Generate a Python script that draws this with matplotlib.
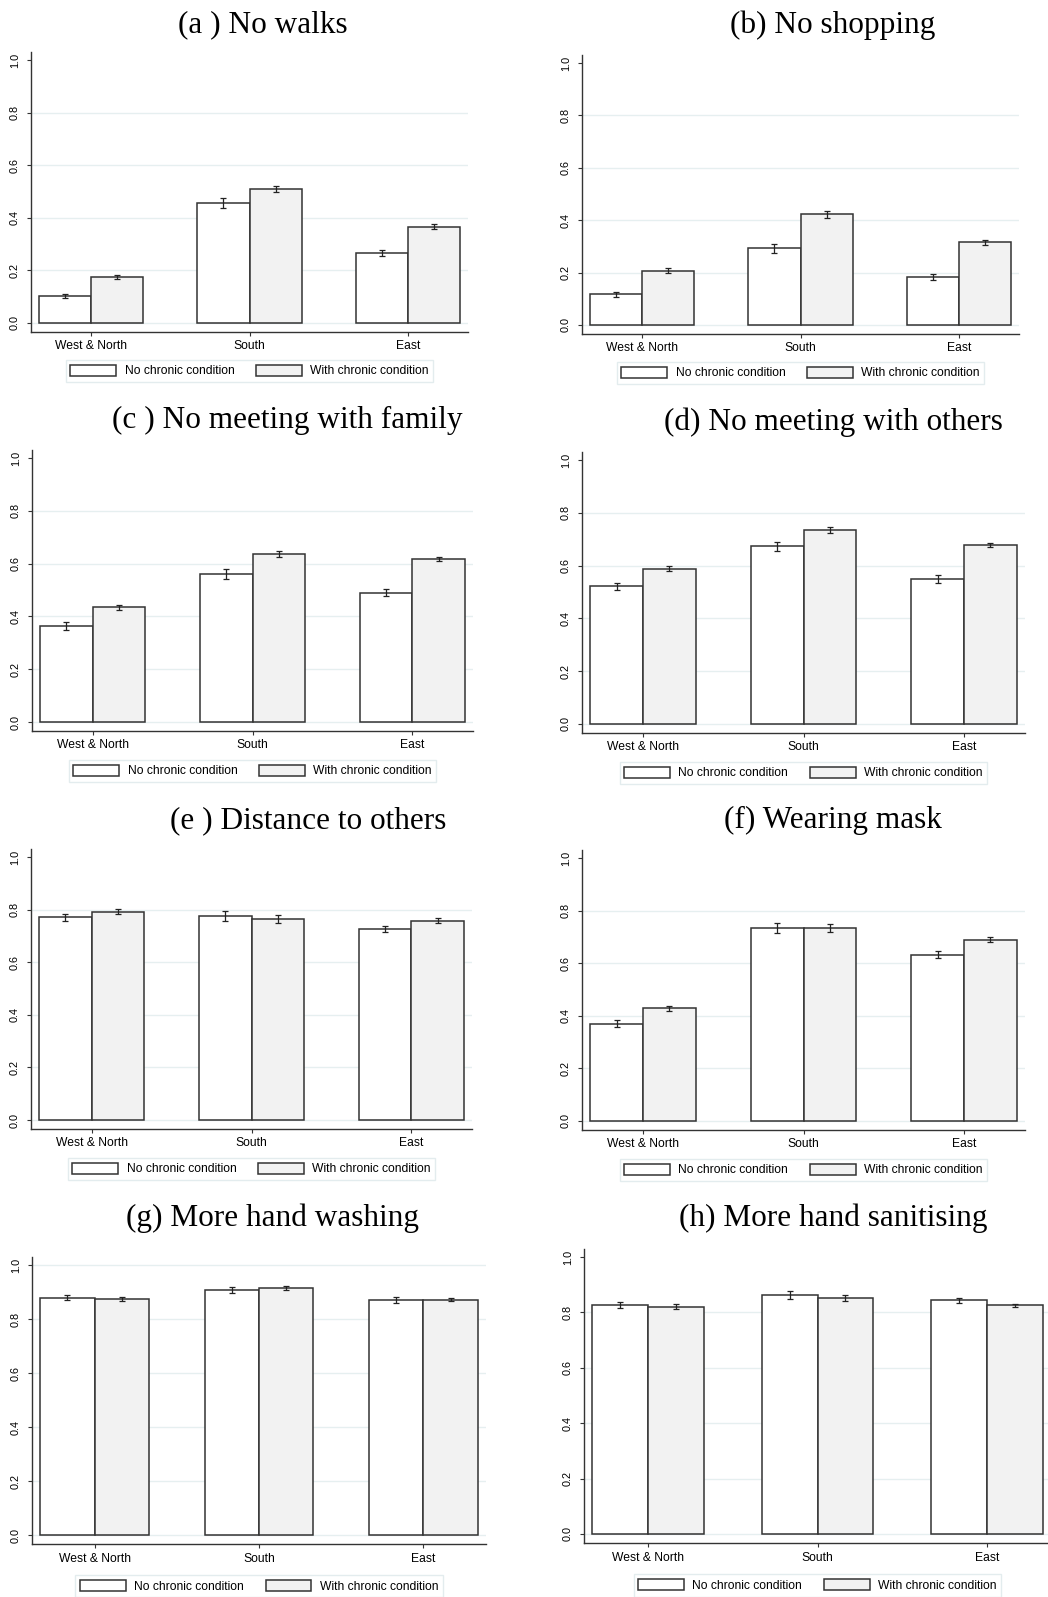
import numpy as np
import matplotlib.pyplot as plt

plt.rcParams['font.family'] = ['Liberation Sans', 'DejaVu Sans']

W, H = 1048, 1597

regions = ["West & North", "South", "East"]
series_labels = ["No chronic condition", "With chronic condition"]
titles = ["(a ) No walks", "(b) No shopping",
          "(c ) No meeting with family", "(d) No meeting with others",
          "(e ) Distance to others", "(f) Wearing mask",
          "(g) More hand washing", "(h) More hand sanitising"]

# share of respondents, by panel (a..h) and region
no_chronic = [
    [0.103, 0.457, 0.265],
    [0.117, 0.293, 0.183],
    [0.363, 0.562, 0.490],
    [0.521, 0.673, 0.549],
    [0.770, 0.774, 0.726],
    [0.370, 0.735, 0.633],
    [0.879, 0.907, 0.870],
    [0.828, 0.864, 0.844],
]
with_chronic = [
    [0.174, 0.510, 0.366],
    [0.207, 0.422, 0.316],
    [0.434, 0.637, 0.617],
    [0.589, 0.735, 0.679],
    [0.792, 0.764, 0.758],
    [0.428, 0.735, 0.689],
    [0.875, 0.915, 0.872],
    [0.820, 0.852, 0.825],
]
ci_no = [
    [0.008, 0.018, 0.011],
    [0.0095, 0.0165, 0.010],
    [0.014, 0.019, 0.014],
    [0.013, 0.018, 0.014],
    [0.013, 0.019, 0.013],
    [0.014, 0.0195, 0.015],
    [0.009, 0.012, 0.0105],
    [0.011, 0.014, 0.0096],
]
ci_with = [
    [0.008, 0.011, 0.009],
    [0.0095, 0.012, 0.009],
    [0.010, 0.0125, 0.008],
    [0.011, 0.011, 0.008],
    [0.0095, 0.0145, 0.0095],
    [0.011, 0.0145, 0.009],
    [0.0075, 0.008, 0.007],
    [0.009, 0.011, 0.0066],
]

# layout in pixels: left spine, right end, y of 1.0, y of 0.0
boxes = [
    (31, 468, 60, 323), (582, 1019, 63, 325),
    (32, 473, 458, 722), (582, 1025, 460, 724),
    (31, 472, 857, 1120), (582, 1025, 858, 1121),
    (32, 486, 1265, 1535), (584, 1051, 1257, 1534),
]
# title centre x and baseline y, pixels
title_pos = [(263, 32), (833, 33), (287, 428), (833, 430),
             (308, 828), (833, 828), (273, 1226), (833, 1226)]
legend_gap = [28, 28, 29, 29, 29, 29, 31, 31]

YLO, YHI = -0.034, 1.03
w = 0.33
edge = '#333333'

fig = plt.figure(figsize=(W / 100, H / 100), dpi=100)

for i in range(8):
    L, R, y1, y0 = boxes[i]
    unit = y0 - y1
    top = y1 - (YHI - 1) * unit
    bot = y0 - YLO * unit
    ax = fig.add_axes([L / W, 1 - bot / H, (R - L) / W, (bot - top) / H])

    x = np.arange(len(regions))
    b1 = ax.bar(x - w / 2, no_chronic[i], w, color='white',
                edgecolor=edge, linewidth=1.1, zorder=2)
    b2 = ax.bar(x + w / 2, with_chronic[i], w, color='#f2f2f2',
                edgecolor=edge, linewidth=1.1, zorder=2)
    ax.errorbar(x - w / 2, no_chronic[i], yerr=ci_no[i], fmt='none',
                ecolor='#222222', elinewidth=0.9, capsize=2.2,
                capthick=0.9, zorder=3)
    ax.errorbar(x + w / 2, with_chronic[i], yerr=ci_with[i], fmt='none',
                ecolor='#222222', elinewidth=0.9, capsize=2.2,
                capthick=0.9, zorder=3)

    ax.set_xlim(-0.38, 2.38)
    ax.set_ylim(YLO, YHI)
    ax.set_yticks([0.0, 0.2, 0.4, 0.6, 0.8, 1.0])
    ax.set_yticklabels(["0.0", "0.2", "0.4", "0.6", "0.8", "1.0"],
                       rotation=90, va='center')
    ax.set_xticks(x)
    ax.set_xticklabels(regions)
    ax.tick_params(axis='y', length=3, width=0.8, color=edge,
                   labelsize=7.8, pad=5)
    ax.tick_params(axis='x', length=3, width=0.8, color=edge,
                   labelsize=8.7, pad=3)

    ax.set_axisbelow(True)
    ax.yaxis.grid(True, color='#e6eff0', linewidth=1)
    if i != 6:
        ax.get_ygridlines()[-1].set_visible(False)
    for s in ['top', 'right']:
        ax.spines[s].set_visible(False)
    for s in ['left', 'bottom']:
        ax.spines[s].set_color(edge)
        ax.spines[s].set_linewidth(1)

    leg = ax.legend([b1, b2], series_labels, loc='upper center',
                    bbox_to_anchor=((L + R) / 2 / W,
                                    1 - (bot + legend_gap[i]) / H),
                    bbox_transform=fig.transFigure, ncol=2,
                    fancybox=False, edgecolor='#dde8ea', fontsize=8.7,
                    handlelength=3.8, handleheight=1.0, handletextpad=0.67,
                    columnspacing=1.8, borderpad=0.4, borderaxespad=0)
    leg.get_frame().set_linewidth(1)

    tx, ty = title_pos[i]
    fig.text(tx / W, 1 - ty / H, titles[i], ha='center', va='baseline',
             family='Liberation Serif', fontsize=22.5)

fig.savefig("out.png", dpi=100)
